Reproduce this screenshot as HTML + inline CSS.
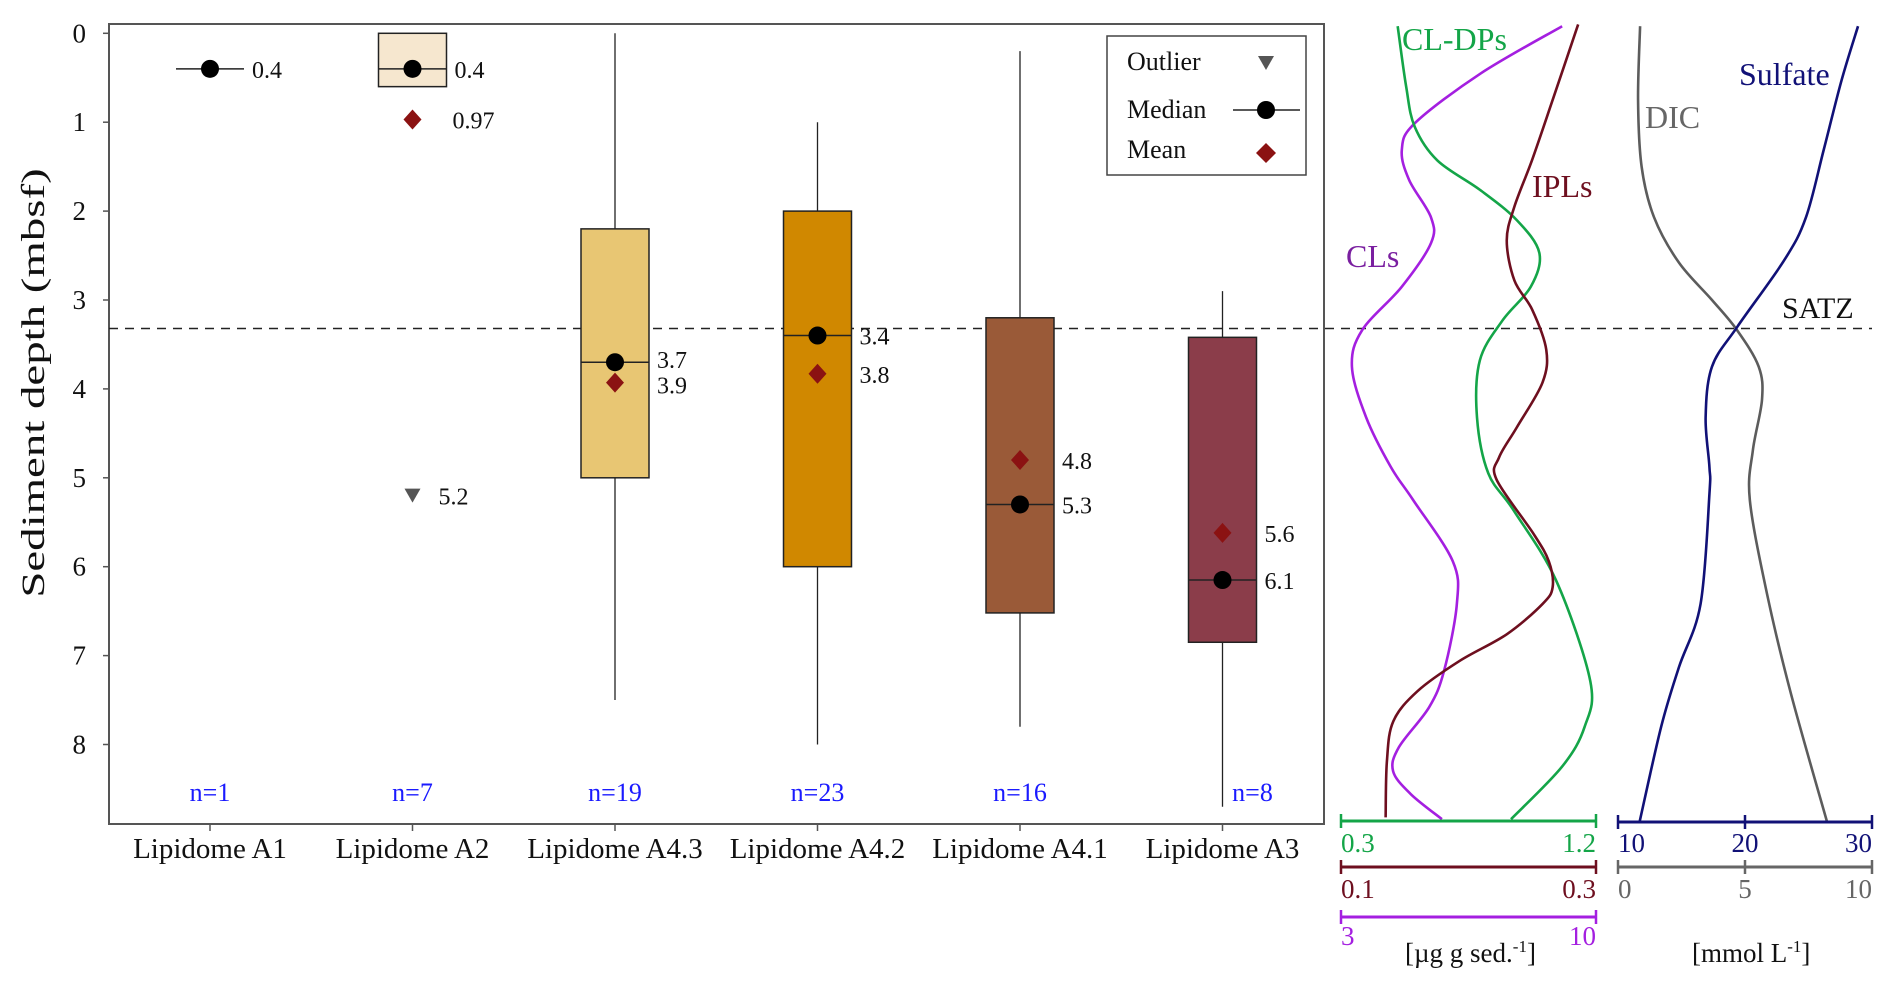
<!DOCTYPE html>
<html><head><meta charset="utf-8"><style>
html,body{margin:0;padding:0;background:#fff;}
svg{display:block;font-family:"Liberation Serif",serif;}
</style></head><body>
<svg id="chart" width="1892" height="988" viewBox="0 0 1892 988" xmlns="http://www.w3.org/2000/svg">
<g id="left"></g>
<g id="right"></g>
</svg>
<script>
// ---- Box plot data ----
const categories = ["Lipidome A1","Lipidome A2","Lipidome A4.3","Lipidome A4.2","Lipidome A4.1","Lipidome A3"];
const q1 = [null, 0, 2.2, 2.0, 3.2, 3.42];
const q3 = [null, 0.6, 5.0, 6.0, 6.52, 6.85];
const whiskerLow = [null, null, 0, 1.0, 0.2, 2.9];
const whiskerHigh = [null, null, 7.5, 8.0, 7.8, 8.7];
const medians = [0.4, 0.4, 3.7, 3.4, 5.3, 6.15];
const means = [null, 0.97, 3.93, 3.83, 4.8, 5.62];
const medianLabels = ["0.4","0.4","3.7","3.4","5.3","6.1"];
const meanLabels = [null,"0.97","3.9","3.8","4.8","5.6"];
const outliers = [null, 5.2, null, null, null, null];
const outlierLabels = [null, "5.2", null, null, null, null];
const nLabels = ["n=1","n=7","n=19","n=23","n=16","n=8"];
const boxColors = [null,"#f6e7cf","#e8c673","#d08800","#9a5a38","#8b3d4a"];
const yTicks = [0,1,2,3,4,5,6,7,8];
const satzDepth = 3.32;

// ---- Profile data (depth vs value) ----
const clsDepth = [-0.08,0.45,1.01,1.31,1.65,2.07,2.36,2.85,3.34,3.75,4.32,4.88,5.25,5.94,6.42,7.17,7.58,8.03,8.30,8.56,8.84];
const clsValue = [9.07,6.84,5.03,4.67,4.87,5.47,5.47,4.67,3.58,3.30,3.69,4.37,4.98,6.07,6.18,5.83,5.42,4.59,4.43,4.92,5.77];
const cldpDepth = [-0.08,0.60,1.05,1.43,1.76,2.10,2.47,2.85,3.23,3.68,4.32,4.95,5.37,6.16,7.29,7.80,8.25,8.84];
const cldpValue = [0.50,0.53,0.56,0.64,0.79,0.92,1.00,0.97,0.87,0.79,0.78,0.82,0.91,1.06,1.18,1.16,1.08,0.90];
const iplDepth = [-0.10,0.75,1.42,1.95,2.33,2.78,3.11,3.56,3.93,4.43,4.77,5.02,5.63,5.94,6.23,6.42,6.76,7.06,7.40,7.74,8.19,8.82];
const iplValue = [0.286,0.266,0.250,0.236,0.230,0.236,0.250,0.261,0.258,0.238,0.224,0.222,0.251,0.263,0.266,0.258,0.230,0.193,0.160,0.141,0.136,0.135];
const sulfDepth = [-0.08,0.53,1.31,2.07,2.55,3.30,3.75,4.32,4.88,5.18,6.42,7.13,7.80,8.87];
const sulfValue = [28.9,27.6,26.2,24.8,23.1,19.4,17.4,16.9,17.2,17.2,16.5,14.8,13.4,11.7];
const dicDepth = [-0.08,0.75,1.50,2.07,2.58,3.00,3.34,3.75,4.12,4.69,5.25,6.31,7.43,8.87];
const dicValue = [0.87,0.79,0.93,1.42,2.40,3.70,4.69,5.54,5.67,5.31,5.19,5.87,6.81,8.23];

const NS="http://www.w3.org/2000/svg";
function mk(parent,tag,attrs,text){const e=document.createElementNS(NS,tag);for(const k in attrs)e.setAttribute(k,attrs[k]);if(text!==undefined)e.textContent=text;parent.appendChild(e);return e;}
const left=document.getElementById('left'), right=document.getElementById('right');
const yS=d=>33.3+d*88.9;
const xS=i=>210+i*202.5;
const BW=34;

// frame
let e=mk(left,'rect',{x:109,y:24,width:1215,height:800,fill:'none',stroke:'#555','stroke-width':2});


// y ticks
yTicks.forEach(t=>{
  let l=mk(left,'line',{x1:103,x2:109,y1:yS(t),y2:yS(t),stroke:'#555','stroke-width':1.5});
  
  
  let tx=mk(left,'text',{x:86,y:yS(t)+9,'font-size':27,'text-anchor':'end',fill:'#111'},String(t));
  
  
});
e=mk(left,'text',{x:0,y:0,'font-size':33,'text-anchor':'middle',fill:'#111',transform:'translate(44,383) rotate(-90) scale(1.42,1)'},'Sediment depth (mbsf)');


// SATZ line
e=mk(left,'line',{x1:109,x2:1872,y1:yS(satzDepth),y2:yS(satzDepth),stroke:'#222','stroke-width':1.5,'stroke-dasharray':'9,7'});



categories.forEach((c,i)=>{
  const cx=xS(i);
  let tk=mk(left,'line',{x1:cx,x2:cx,y1:824,y2:831,stroke:'#555','stroke-width':1.5});
  
  
  let lb=mk(left,'text',{x:cx,y:858,'font-size':29,'text-anchor':'middle',fill:'#111'},c);
  
  
  if(whiskerLow[i]!==null){
    let w=mk(left,'line',{x1:cx,x2:cx,y1:yS(whiskerLow[i]),y2:yS(whiskerHigh[i]),stroke:'#222','stroke-width':1.3});
    
    
  }
  if(q1[i]!==null){
    let b=mk(left,'rect',{x:cx-BW,y:yS(q1[i]),width:BW*2,height:yS(q3[i])-yS(q1[i]),fill:boxColors[i],stroke:'#222','stroke-width':1.5});
    
    
  }
  let ml=mk(left,'line',{x1:cx-BW,x2:cx+BW,y1:yS(medians[i]),y2:yS(medians[i]),stroke:'#222','stroke-width':1.5});
  
  
  let mc=mk(left,'circle',{cx:cx,cy:yS(medians[i]),r:9,fill:'#000'});
  
  
  let mt=mk(left,'text',{x:cx+BW+8,y:yS(medians[i])+9 + (i===2? -3:0),'font-size':24,fill:'#111'},medianLabels[i]);
  
  
  if(means[i]!==null){
    const my=yS(means[i]);
    let d=mk(left,'polygon',{points:`${cx},${my-10} ${cx+9},${my} ${cx},${my+10} ${cx-9},${my}`,fill:'#8b1212'});
    
    
    let dt=mk(left,'text',{x:cx+BW+(i===1?6:8),y:my+9+(i===2?2:0),'font-size':24,fill:'#111'},meanLabels[i]);
    
    
  }
  if(outliers[i]!==null){
    const oy=yS(outliers[i]);
    let o=mk(left,'polygon',{points:`${cx-8},${oy-7} ${cx+8},${oy-7} ${cx},${oy+7}`,fill:'#555'});
    
    
    let ot=mk(left,'text',{x:cx+26,y:oy+9,'font-size':24,fill:'#111'},outlierLabels[i]);
    
    
  }
  let nt=mk(left,'text',{x:cx+(i===5?30:0),y:801,'font-size':26,'text-anchor':'middle',fill:'#1a1aff'},nLabels[i]);
  
  
});

// legend
const lg=mk(left,'g',{});


e=mk(lg,'rect',{x:1107,y:36,width:199,height:139,fill:'#fff',stroke:'#444','stroke-width':1.5});


[['Outlier',70],['Median',118],['Mean',158]].forEach(([t,y])=>{
  let tt=mk(lg,'text',{x:1127,y:y,'font-size':26,fill:'#111'},t);
  
  
});
e=mk(lg,'polygon',{points:'1258,56 1274,56 1266,70',fill:'#555'});


e=mk(lg,'line',{x1:1233,x2:1300,y1:110,y2:110,stroke:'#222','stroke-width':1.5});


e=mk(lg,'circle',{cx:1266,cy:110,r:9,fill:'#000'});


e=mk(lg,'polygon',{points:'1266,143 1276,153 1266,163 1256,153',fill:'#8b1212'});



// ---- profiles ----
function smoothPath(xs,ys){
  let d=`M${xs[0]},${ys[0]}`;
  for(let i=0;i<xs.length-1;i++){
    const x0=xs[Math.max(i-1,0)],y0=ys[Math.max(i-1,0)],x1=xs[i],y1=ys[i],x2=xs[i+1],y2=ys[i+1],x3=xs[Math.min(i+2,xs.length-1)],y3=ys[Math.min(i+2,xs.length-1)];
    d+=` C${x1+(x2-x0)/6},${y1+(y2-y0)/6} ${x2-(x3-x1)/6},${y2-(y3-y1)/6} ${x2},${y2}`;
  }
  return d;
}
function curve(depths,vals,x0,x1,v0,v1,color,name){
  const xs=vals.map(v=>x0+(v-v0)/(v1-v0)*(x1-x0));
  const ys=depths.map(yS);
  let p=mk(right,'path',{d:smoothPath(xs,ys),fill:'none',stroke:color,'stroke-width':2.6});
  
  
}
curve(clsDepth,clsValue,1341,1596,3,10,'#a41fe0','cls-curve');
curve(cldpDepth,cldpValue,1341,1596,0.3,1.2,'#14a548','cl-dps-curve');
curve(iplDepth,iplValue,1341,1596,0.1,0.3,'#6e0f1f','ipls-curve');
curve(dicDepth,dicValue,1618,1872,0,10,'#5c5c5c','dic-curve');
curve(sulfDepth,sulfValue,1618,1872,10,30,'#111177','sulfate-curve');

function axis(y,x0,x1,color,ticks,labels,anchors,name,extra){
  let l=mk(right,'line',{x1:x0,x2:x1,y1:y,y2:y,stroke:color,'stroke-width':3});
  
  
  ticks.forEach((t,k)=>{
    let tk=mk(right,'line',{x1:t,x2:t,y1:y-7,y2:y+7,stroke:color,'stroke-width':2.5});
    
    
    let tl=mk(right,'text',{x:t,y:y+extra,'font-size':27,'text-anchor':anchors[k],fill:color},labels[k]);
    
    
  });
}
axis(821,1341,1596,'#14a548',[1341,1596],['0.3','1.2'],['start','end'],'cl-dps-axis',31);
axis(867,1341,1596,'#6e0f1f',[1341,1596],['0.1','0.3'],['start','end'],'ipls-axis',31);
axis(917,1341,1596,'#a41fe0',[1341,1596],['3','10'],['start','end'],'cls-axis',28);
axis(822,1618,1872,'#111177',[1618,1745,1872],['10','20','30'],['start','middle','end'],'sulfate-axis',30);
axis(867,1618,1872,'#666',[1618,1745,1872],['0','5','10'],['start','middle','end'],'dic-axis',31);

function label(t,x,y,c,name,size){
  let tx=mk(right,'text',{x:x,y:y,'font-size':size||32,fill:c},t);
  
  
  return tx;
}
label('CL-DPs',1402,50,'#14a548','cl-dps-label');
label('IPLs',1532,197,'#6e0f1f','ipls-label');
label('CLs',1346,267,'#7a1fa0','cls-label');
label('DIC',1645,128,'#666','dic-label');
label('Sulfate',1739,85,'#111177','sulfate-label');
label('SATZ',1782,318,'#111','satz-label',30);
let u1=label('',1405,962,'#111','lipid-units-label',27);
u1.innerHTML='[µg g sed.<tspan dy="-10" font-size="17">-1</tspan><tspan dy="10">]</tspan>';
let u2=label('',1692,962,'#111','mmol-units-label',27);
u2.innerHTML='[mmol L<tspan dy="-10" font-size="17">-1</tspan><tspan dy="10">]</tspan>';
</script>
</body></html>
